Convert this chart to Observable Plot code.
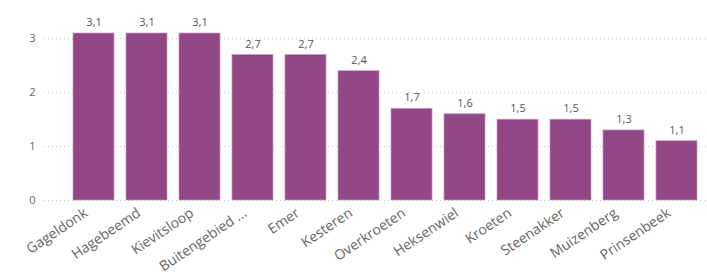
<!DOCTYPE html>
<html>
<head>
<meta charset="utf-8">
<script src="https://cdn.jsdelivr.net/npm/d3@7"></script>
<script src="https://cdn.jsdelivr.net/npm/@observablehq/plot@0.6"></script>
<style>
  html, body { margin: 0; padding: 0; background: #fff; }
  #chart svg { display: block; }
</style>
</head>
<body>
<div id="chart"></div>
<script>
const categories = ["Gageldonk", "Hagebeemd", "Kievitsloop", "Buitengebied ...", "Emer", "Kesteren", "Overkroeten", "Heksenwiel", "Kroeten", "Steenakker", "Muizenberg", "Prinsenbeek"];
const values = [3.1, 3.1, 3.1, 2.7, 2.7, 2.4, 1.7, 1.6, 1.5, 1.5, 1.3, 1.1];
const yTicks = [0, 1, 2, 3];

const data = categories.map((c, i) => ({category: c, value: values[i]}));
const fmt = d => d.toFixed(1).replace(".", ",");
const font = "'Segoe UI', 'Open Sans', sans-serif";

const chart = Plot.plot({
  width: 707,
  height: 272,
  marginLeft: 44,
  marginRight: 0,
  marginTop: 33,
  marginBottom: 72,
  style: {fontFamily: font, background: "#fff"},
  x: {domain: categories, range: [68, 702], paddingInner: 0.22, paddingOuter: 0, label: null},
  y: {domain: [0, 3.1], label: null},
  marks: [
    Plot.ruleY(yTicks, {stroke: "#c8c8c8", strokeDasharray: "1,3", strokeWidth: 1}),
    Plot.axisY({ticks: yTicks, tickFormat: d => String(d), tickSize: 0, tickPadding: 9, fontSize: 11, fill: "#666", label: null}),
    Plot.axisX({tickSize: 0, tickPadding: 11, dx: -8, tickRotate: -34, fontSize: 14, fill: "#666", label: null}),
    Plot.barY(data, {x: "category", y: "value", fill: "#944787", stroke: "#c497bc", strokeWidth: 0.7}),
    Plot.text(data, {x: "category", y: "value", text: d => fmt(d.value), dy: -11, fontSize: 11, fill: "#555"})
  ]
});
document.getElementById("chart").appendChild(chart);
</script>
</body>
</html>
